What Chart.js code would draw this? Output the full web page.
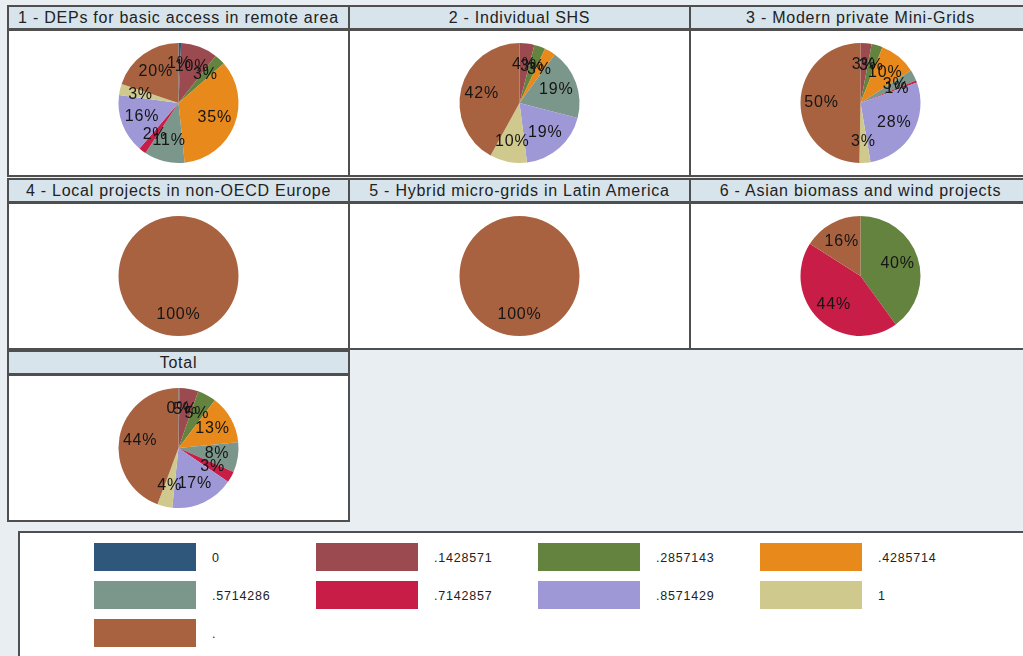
<!DOCTYPE html>
<html>
<head>
<meta charset="utf-8">
<script src="https://cdn.jsdelivr.net/npm/chart.js@4.4.1/dist/chart.umd.min.js"></script>
<style>
  html, body { margin: 0; padding: 0; }
  body {
    width: 1023px; height: 656px; overflow: hidden; position: relative;
    background: #e8eef2;
    font-family: "Liberation Sans", Arial, sans-serif;
  }
  .title {
    position: absolute; box-sizing: border-box;
    background: #d8e4eb; border: 2px solid #4f4f4f;
    font-size: 16px; letter-spacing: 0.75px; color: #222;
    text-align: center; line-height: 21px; white-space: nowrap; overflow: hidden;
  }
  .panel {
    position: absolute; box-sizing: border-box;
    background: #fff; border: 2px solid #4f4f4f;
  }
  .panel canvas { display: block; }
  #legend {
    position: absolute; left: 18px; top: 531px; width: 1030px; height: 140px;
    box-sizing: border-box; background: #fff; border: 2px solid #4f4f4f;
  }
  .sw { position: absolute; width: 102px; height: 28px; }
  .lb {
    position: absolute; font-size: 12.5px; letter-spacing: 0.8px; color: #222;
    line-height: 28px; white-space: nowrap;
  }
</style>
</head>
<body>
<div id="legend"></div>
<script>
// categories of the pie variable, in plotting order
var categories = ['0', '.1428571', '.2857143', '.4285714', '.5714286', '.7142857', '.8571429', '1', '.'];
var sliceColors = ['#2f567b', '#9b4a4f', '#64833f', '#e8891c', '#7b968a', '#c81d46', '#9e98d6', '#d0c98e', '#a86240'];

var panelTitles = [
  '1 - DEPs for basic access in remote area',
  '2 - Individual SHS',
  '3 - Modern private Mini-Grids',
  '4 - Local projects in non-OECD Europe',
  '5 - Hybrid micro-grids in Latin America',
  '6 - Asian biomass and wind projects',
  'Total'
];

// shares per category (percent)
var deps     = [0.7, 10, 3, 35, 11, 2, 16, 3, 20];
var shs      = [0, 4, 3, 3, 19, 0, 19, 10, 42];
var miniGrid = [0, 3, 3, 10, 3, 0.6, 28, 3, 50];
var europe   = [0, 0, 0, 0, 0, 0, 0, 0, 100];
var latam    = [0, 0, 0, 0, 0, 0, 0, 0, 100];
var asia     = [0, 0, 40, 0, 0, 44, 0, 0, 16];
var total    = [0.3, 5, 5, 13, 8, 3, 17, 4, 44];

var series = [deps, shs, miniGrid, europe, latam, asia, total];

// percent labels inside the slices
var sliceLabels = {
  id: 'sliceLabels',
  afterDatasetsDraw: function (chart) {
    var ctx = chart.ctx;
    var ds = chart.data.datasets[0];
    var sum = ds.data.reduce(function (a, b) { return a + b; }, 0);
    var meta = chart.getDatasetMeta(0);
    ctx.save();
    ctx.font = '16px "Liberation Sans", Arial, sans-serif';
    ctx.letterSpacing = '0.8px';
    ctx.fillStyle = '#151515';
    ctx.textAlign = 'center';
    ctx.textBaseline = 'middle';
    meta.data.forEach(function (arc, i) {
      var v = ds.data[i];
      if (!v) return;
      var mid = (arc.startAngle + arc.endAngle) / 2;
      var r = arc.outerRadius * 0.65;
      var x = arc.x + Math.cos(mid) * r;
      var y = arc.y + Math.sin(mid) * r;
      ctx.fillText(Math.round(v / sum * 100) + '%', x, y);
    });
    ctx.restore();
  }
};

var colLeft = [7, 348, 689];
var rowTop = [5, 177.5, 350];
var cellW = 343;

series.forEach(function (values, k) {
  var left = colLeft[k % 3];
  var top = rowTop[Math.floor(k / 3)];

  var t = document.createElement('div');
  t.className = 'title';
  t.style.left = left + 'px';
  t.style.top = top + 'px';
  t.style.width = cellW + 'px';
  t.style.height = '25px';
  t.textContent = panelTitles[k];

  var p = document.createElement('div');
  p.className = 'panel';
  p.style.left = left + 'px';
  p.style.top = (top + 24) + 'px';
  p.style.width = cellW + 'px';
  p.style.height = '148px';
  var c = document.createElement('canvas');
  c.width = cellW - 4;
  c.height = 144;
  p.appendChild(c);

  document.body.appendChild(p);
  document.body.appendChild(t);

  new Chart(c.getContext('2d'), {
    type: 'pie',
    data: {
      labels: categories,
      datasets: [{
        data: values,
        backgroundColor: sliceColors,
        borderWidth: 0,
        radius: 60
      }]
    },
    options: {
      responsive: false,
      animation: false,
      plugins: {
        legend: { display: false },
        tooltip: { enabled: false }
      }
    },
    plugins: [sliceLabels]
  });
});

// legend: 4 columns
var legend = document.getElementById('legend');
categories.forEach(function (cat, i) {
  var col = i % 4, row = Math.floor(i / 4);
  var x = 94 + col * 222 - 18;
  var y = 543 + row * 38 - 531;
  var sw = document.createElement('div');
  sw.className = 'sw';
  sw.style.left = (x - 2) + 'px';
  sw.style.top = (y - 2) + 'px';
  sw.style.background = sliceColors[i];
  var lb = document.createElement('div');
  lb.className = 'lb';
  lb.style.left = (x + 116) + 'px';
  lb.style.top = (y - 1) + 'px';
  lb.textContent = cat;
  legend.appendChild(sw);
  legend.appendChild(lb);
});
</script>
</body>
</html>
